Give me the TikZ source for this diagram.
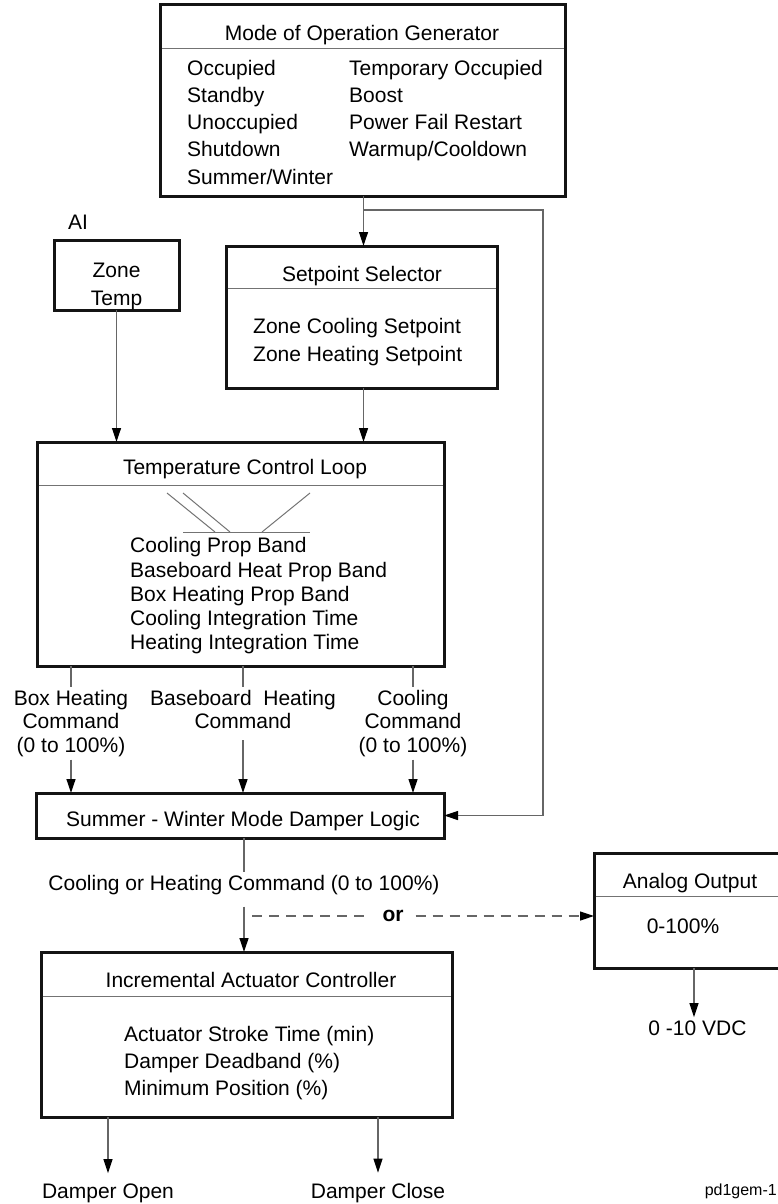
\documentclass[tikz,border=0pt]{standalone}
\usepackage{fontspec}
\setmainfont{Liberation Sans}
\usetikzlibrary{arrows.meta}
\begin{document}
\begin{tikzpicture}[x=1pt,y=-1pt,
  every node/.style={font=\fontsize{21}{25}\selectfont, inner sep=3pt},
  blk/.style={draw=black!92, line width=3pt, outer sep=0pt, inner sep=0pt, rectangle},
  sepl/.style={draw=black!55, line width=1pt},
  wire/.style={draw=black!60, line width=1.2pt},
  tip/.style={-{Triangle[length=14pt,width=9pt,color=black]}},
  arr/.style={wire, tip},
  dline/.style={wire, dash pattern=on 10pt off 7pt},
  lbl/.style={anchor=base},
  lft/.style={anchor=base west},
]
\useasboundingbox (0,0) rectangle (778,1204);
\clip (0,0) rectangle (778,1204);

% ---------- blocks ----------
\node[blk, minimum width=405pt, minimum height=191pt] (mog) at (362.5,100.5) {};
\node[blk, minimum width=125pt, minimum height=70pt]  (zt)  at (116.5,275) {};
\node[blk, minimum width=271pt, minimum height=142pt] (ss)  at (361.5,317) {};
\node[blk, minimum width=407pt, minimum height=224pt] (tcl) at (240.5,554) {};
\node[blk, minimum width=408pt, minimum height=45pt]  (swl) at (240,815.5) {};
\node[blk, minimum width=196pt, minimum height=115pt] (ao)  at (692,910.5) {};
\node[blk, minimum width=411pt, minimum height=165pt] (iac) at (246.5,1034.5) {};

% title separators
\foreach \b/\d in {mog/44, ss/42, tcl/43, ao/43, iac/44}
  \draw[sepl, shorten <=1.5pt, shorten >=1.5pt]
    ([yshift=-\d pt]\b.north west) -- ([yshift=-\d pt]\b.north east);

% ---------- Mode of Operation Generator ----------
\node[lbl] (mogt) at (362,41) {Mode of Operation Generator};
\node[lft] (m1) at (184,76)  {Occupied};
\node[lft] (m2) at (184,103) {Standby};
\node[lft] (m3) at (184,130) {Unoccupied};
\node[lft] (m4) at (184,157) {Shutdown};
\node[lft] (m5) at (184,184) {Summer/Winter};
\node[lft] (m6) at (346,76)  {Temporary Occupied};
\node[lft] (m7) at (346,103) {Boost};
\node[lft] (m8) at (346,130) {Power Fail Restart};
\node[lft] (m9) at (346,157) {Warmup/Cooldown};

% ---------- Zone Temp ----------
\node[lft] (ai) at (65,229) {AI};
\node[lbl] (zt1) at (116.5,277) {Zone};
\node[lbl] (zt2) at (116.5,305) {Temp};

% ---------- Setpoint Selector ----------
\node[lbl] (sst) at (362,281) {Setpoint Selector};
\node[lft] (ss1) at (250,333) {Zone Cooling Setpoint};
\node[lft] (ss2) at (250,361) {Zone Heating Setpoint};

% ---------- Temperature Control Loop ----------
\node[lbl] (tclt) at (245,474) {Temperature Control Loop};
\draw[sepl] (167,493) -- (215,532);
\draw[sepl] (183,493) -- (230,532);
\draw[sepl] (310,493) -- (262,532);
\draw[sepl] (183,532) -- (310,532);
\node[lft] (t1) at (127,552) {Cooling Prop Band};
\node[lft] (t2) at (127,577) {Baseboard Heat Prop Band};
\node[lft] (t3) at (127,601) {Box Heating Prop Band};
\node[lft] (t4) at (127,625) {Cooling Integration Time};
\node[lft] (t5) at (127,649) {Heating Integration Time};

% ---------- command labels ----------
\node[lbl] (bh1) at (71,705) {Box Heating};
\node[lbl] (bh2) at (71,728) {Command};
\node[lbl] (bh3) at (71,752) {(0 to 100\%)};
\node[lbl] (bb1) at (243,705) {Baseboard\ \ Heating};
\node[lbl] (bb2) at (243,728) {Command};
\node[lbl] (co1) at (413,705) {Cooling};
\node[lbl] (co2) at (413,728) {Command};
\node[lbl] (co3) at (413,752) {(0 to 100\%)};

% ---------- Summer - Winter ----------
\node[lbl] (swlt) at (243,826) {Summer - Winter Mode Damper Logic};
\node[lbl] (ch) at (244,890) {Cooling or Heating Command (0 to 100\%)};

% ---------- Analog Output ----------
\node[lbl] (aot) at (690,888) {Analog Output};
\node[lbl] (ao1) at (683,933) {0-100\%};
\node[lbl] (vdc) at (697.5,1035) {0 -10 VDC};

% ---------- Incremental Actuator Controller ----------
\node[lbl] (iact) at (251,987) {Incremental Actuator Controller};
\node[lft] (i1) at (121,1041) {Actuator Stroke Time (min)};
\node[lft] (i2) at (121,1068) {Damper Deadband (\%)};
\node[lft] (i3) at (121,1095) {Minimum Position (\%)};
\node[lbl] (dopen)  at (108,1198) {Damper Open};
\node[lbl] (dclose) at (378,1198) {Damper Close};
\node[anchor=base east, font=\fontsize{16}{19}\selectfont, inner sep=0pt] (tag) at (777,1195) {pd1gem-1};

% ---------- connectors ----------
\coordinate (j1) at (363.5,210);
\coordinate (lp) at (543,210);
\draw[arr] (mog.south -| j1) -- (ss.north -| j1);
\draw[arr] (j1) -- (lp) |- (swl.east);
\draw[arr] (zt.south) -- (zt.south |- tcl.north);
\draw[arr] (ss.south -| j1) -- (tcl.north -| j1);

\draw[wire] (tcl.south -| bh1) -- (bh1.north);
\draw[arr] (bh3.south) -- (swl.north -| bh3);
\draw[wire] (tcl.south -| bb1) -- (bb1.north);
\draw[arr] ([yshift=-9pt]bb2.south) -- (swl.north -| bb2);
\draw[wire] (tcl.south -| co1) -- (co1.north);
\draw[arr] (co3.south) -- (swl.north -| co3);

\draw[wire] (swl.south -| ch) -- (ch.north);
\draw[arr] ([yshift=-9pt]ch.south) -- (iac.north -| ch);

\coordinate (ds) at (252,916);
\node[font=\fontsize{21}{25}\selectfont\bfseries, inner xsep=12pt, inner ysep=2pt] (orn) at (393,916) {or};
\draw[dline] (ds) -- (orn.west);
\draw[dline, tip] (orn.east) -- (orn.east -| ao.west);

\draw[arr] ([xshift=-3.5pt]ao.south -| vdc) -- ([xshift=-3.5pt]vdc.north);
\draw[arr] (iac.south -| dopen) -- ([yshift=7pt]dopen.north);
\draw[arr] (iac.south -| dclose) -- ([yshift=7pt]dclose.north);
\end{tikzpicture}
\end{document}
